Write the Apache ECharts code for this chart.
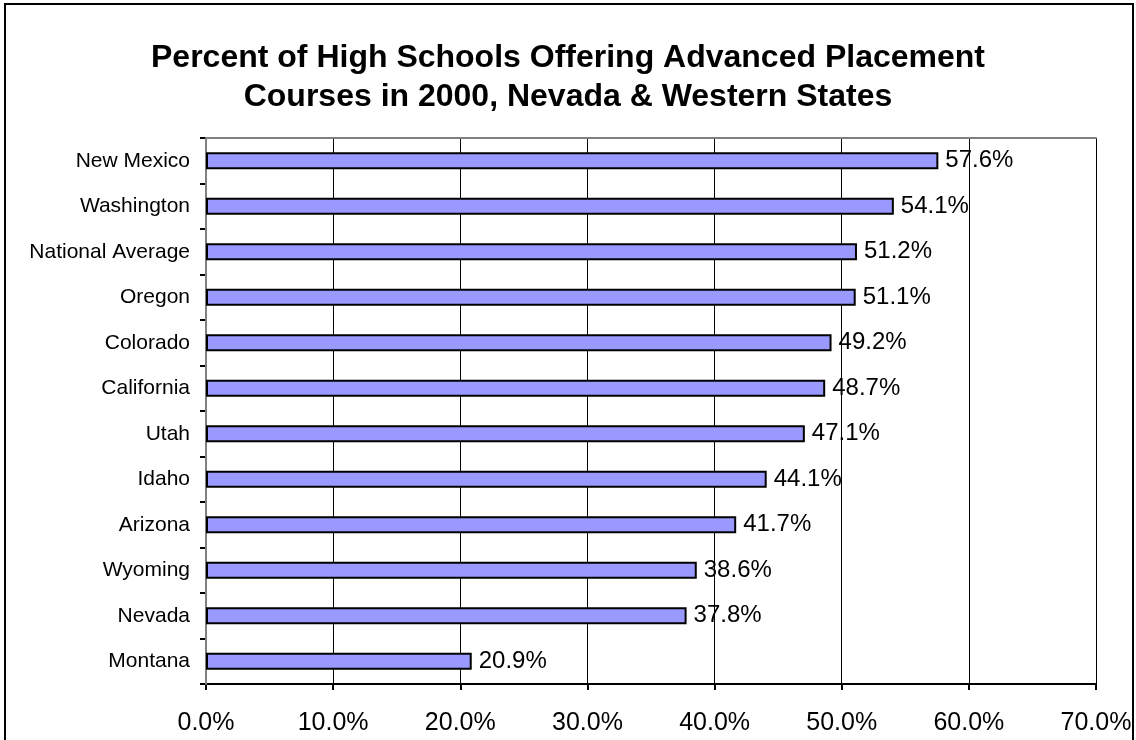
<!DOCTYPE html>
<html>
<head>
<meta charset="utf-8">
<title>Percent of High Schools Offering Advanced Placement Courses in 2000</title>
<script src="https://cdn.jsdelivr.net/npm/echarts@6/dist/echarts.min.js"></script>
<style>
  html, body { margin: 0; padding: 0; background: #ffffff; }
  #chart { width: 1136px; height: 740px; }
</style>
</head>
<body>
<div id="chart"></div>
<script>
// States listed top to bottom, with share of high schools offering AP courses (%)
const states = [
  'New Mexico', 'Washington', 'National Average', 'Oregon', 'Colorado',
  'California', 'Utah', 'Idaho', 'Arizona', 'Wyoming', 'Nevada', 'Montana'
];
const percentAP = [57.6, 54.1, 51.2, 51.1, 49.2, 48.7, 47.1, 44.1, 41.7, 38.6, 37.8, 20.9];
const axisMin = 0;
const axisMax = 70;
const axisStep = 10;

const FONT = '"Liberation Sans", Arial, Helvetica, sans-serif';

const chart = echarts.init(document.getElementById('chart'), null, { renderer: 'canvas' });

chart.setOption({
  animation: false,
  backgroundColor: '#ffffff',
  title: {
    text: 'Percent of High Schools Offering Advanced Placement\nCourses in 2000, Nevada & Western States',
    left: 'center',
    top: 34,
    textStyle: {
      fontFamily: FONT,
      fontSize: 32,
      fontWeight: 'bold',
      color: '#000000',
      lineHeight: 39,
      align: 'center'
    }
  },
  graphic: [{
    type: 'rect',
    shape: { x: 5, y: 4, width: 1128, height: 780 },
    style: { fill: 'none', stroke: '#000000', lineWidth: 2 },
    silent: true,
    z: 10
  }],
  grid: {
    left: 206,
    right: 40,
    top: 138,
    bottom: 56,
    containLabel: false
  },
  xAxis: [{
    type: 'value',
    min: axisMin,
    max: axisMax,
    interval: axisStep,
    axisLine: { show: true, lineStyle: { color: '#000000', width: 2 } },
    axisTick: { show: true, length: 6, lineStyle: { color: '#000000', width: 2 } },
    axisLabel: {
      fontFamily: FONT,
      fontSize: 25,
      color: '#000000',
      margin: 27,
      formatter: v => v.toFixed(1) + '%'
    },
    splitLine: { show: true, lineStyle: { color: '#000000', width: 1 } }
  }, {
    type: 'value',
    position: 'top',
    min: axisMin,
    max: axisMax,
    interval: axisStep,
    axisLine: { show: true, lineStyle: { color: '#808080', width: 2 } },
    axisTick: { show: false },
    axisLabel: { show: false },
    splitLine: { show: false }
  }],
  yAxis: [{
    type: 'category',
    data: states,
    inverse: true,
    axisLine: { show: true, lineStyle: { color: '#000000', width: 2 } },
    axisTick: { show: true, length: 6, alignWithLabel: false, lineStyle: { color: '#000000', width: 2 } },
    axisLabel: {
      fontFamily: FONT,
      fontSize: 21,
      color: '#000000',
      margin: 16
    },
    splitLine: { show: false }
  }, {
    type: 'category',
    data: states,
    inverse: true,
    position: 'right',
    z: 5,
    axisLine: { show: true, lineStyle: { color: '#808080', width: 2 } },
    axisTick: { show: false },
    axisLabel: { show: false },
    splitLine: { show: false }
  }],
  series: [{
    type: 'bar',
    data: percentAP,
    xAxisIndex: 0,
    yAxisIndex: 0,
    barWidth: 17,
    itemStyle: {
      color: '#9999ff',
      borderColor: '#000000',
      borderWidth: 2
    },
    label: {
      show: true,
      position: 'right',
      distance: 7,
      fontFamily: FONT,
      fontSize: 24,
      color: '#000000',
      formatter: p => p.value.toFixed(1) + '%'
    },
    z: 6
  }]
});
</script>
</body>
</html>
